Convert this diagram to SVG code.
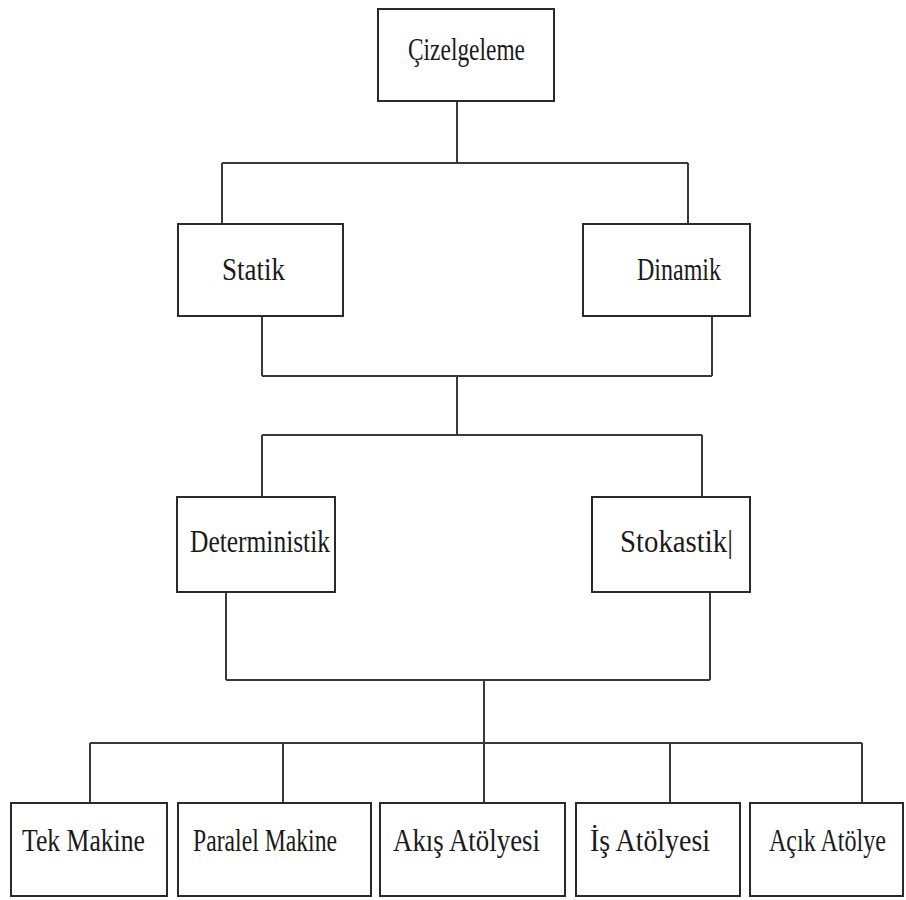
<svg xmlns="http://www.w3.org/2000/svg" width="906" height="900" viewBox="0 0 906 900">
  <style>
    .box { fill: #ffffff; stroke: #2a2a2a; stroke-width: 2; }
    .wire { fill: none; stroke: #3a3a3a; stroke-width: 2; }
    .lbl { font-family: "Liberation Serif", "Times New Roman", serif; font-size: 31px; fill: #1a1a1a; text-anchor: start; }
  </style>
  <rect x="0" y="0" width="906" height="900" fill="#ffffff"/>

  <!-- connectors -->
  <g id="connectors" class="wire">
    <path d="M457 101 V163 M222 163 H688 M222 163 V224 M688 163 V224"/>
    <path d="M262 316 V376 M712 316 V376 M262 376 H712 M457 376 V435 M262 435 H702 M262 435 V497 M702 435 V497"/>
    <path d="M226 592 V680 M710 592 V680 M226 680 H710 M484 680 V743"/>
    <path d="M90 743 H862 M90 743 V803 M283 743 V803 M484 743 V803 M670 743 V803 M862 743 V803"/>
  </g>

  <!-- level 0 -->
  <g id="cizelgeleme">
    <rect class="box" x="378" y="9" width="176" height="92"/>
    <text class="lbl" x="408" y="60" textLength="117" lengthAdjust="spacingAndGlyphs">Çizelgeleme</text>
  </g>

  <!-- level 1 -->
  <g id="statik">
    <rect class="box" x="178" y="224" width="165" height="92"/>
    <text class="lbl" x="222" y="280" textLength="63" lengthAdjust="spacingAndGlyphs">Statik</text>
  </g>
  <g id="dinamik">
    <rect class="box" x="583" y="224" width="167" height="92"/>
    <text class="lbl" x="637" y="280" textLength="84" lengthAdjust="spacingAndGlyphs">Dinamik</text>
  </g>

  <!-- level 2 -->
  <g id="deterministik">
    <rect class="box" x="177" y="497" width="158" height="95"/>
    <text class="lbl" x="190" y="552" textLength="140" lengthAdjust="spacingAndGlyphs">Deterministik</text>
  </g>
  <g id="stokastik">
    <rect class="box" x="592" y="497" width="158" height="95"/>
    <text class="lbl" x="620" y="552" textLength="113" lengthAdjust="spacingAndGlyphs">Stokastik|</text>
  </g>

  <!-- level 3 -->
  <g id="tek-makine">
    <rect class="box" x="11" y="803" width="156" height="93"/>
    <text class="lbl" x="22" y="851" textLength="123" lengthAdjust="spacingAndGlyphs">Tek Makine</text>
  </g>
  <g id="paralel-makine">
    <rect class="box" x="178" y="803" width="193" height="93"/>
    <text class="lbl" x="193" y="851" textLength="144" lengthAdjust="spacingAndGlyphs">Paralel Makine</text>
  </g>
  <g id="akis-atolyesi">
    <rect class="box" x="380" y="803" width="185" height="93"/>
    <text class="lbl" x="393" y="851" textLength="147" lengthAdjust="spacingAndGlyphs">Akış Atölyesi</text>
  </g>
  <g id="is-atolyesi">
    <rect class="box" x="576" y="803" width="164" height="93"/>
    <text class="lbl" x="590" y="851" textLength="120" lengthAdjust="spacingAndGlyphs">İş Atölyesi</text>
  </g>
  <g id="acik-atolye">
    <rect class="box" x="750" y="803" width="153" height="93"/>
    <!-- condensed horizontally so the label's own box stays inside the canvas -->
    <text class="lbl" transform="translate(769 851) scale(0.776 1)" x="0" y="0">Açık Atölye</text>
  </g>
</svg>
